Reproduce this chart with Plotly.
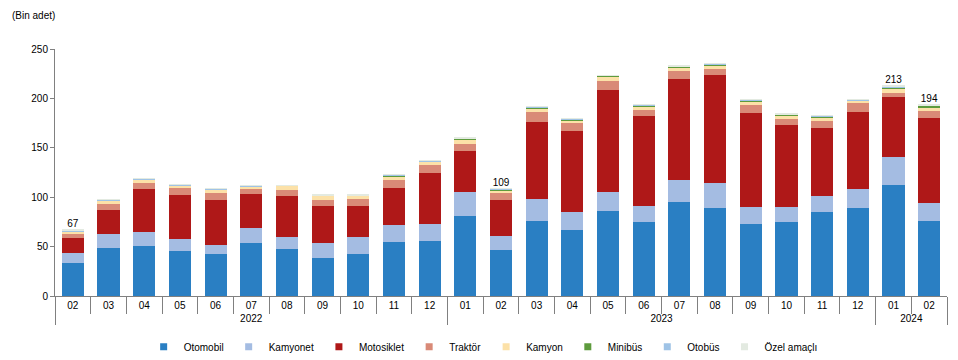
import plotly.graph_objects as go
import numpy as np

years = ["2022"] * 11 + ["2023"] * 12 + ["2024"] * 2
months = ["02", "03", "04", "05", "06", "07", "08", "09", "10", "11", "12",
          "01", "02", "03", "04", "05", "06", "07", "08", "09", "10", "11", "12",
          "01", "02"]

otomobil = [33.5, 49.0, 50.7, 45.6, 42.6, 53.7, 48.0, 38.9, 42.9, 55.1, 56.1,
            81.4, 47.0, 76.4, 67.2, 86.5, 75.3, 95.6, 89.5, 73.3, 75.3, 85.5, 89.5,
            112.8, 76.4]
kamyonet = [10.1, 13.8, 14.2, 12.2, 9.1, 15.2, 11.8, 14.8, 16.9, 16.9, 17.2,
            24.3, 14.1, 22.2, 18.3, 19.2, 16.3, 22.3, 24.4, 17.2, 15.2, 16.2, 19.3,
            27.4, 18.2]
motosiklet = [15.2, 24.7, 43.9, 44.6, 45.9, 34.8, 41.9, 37.9, 31.8, 37.8, 50.7,
              40.6, 36.5, 77.1, 81.1, 102.4, 90.2, 101.4, 109.4, 95.0, 82.1, 67.9, 77.0,
              60.8, 85.1]
traktor = [4.0, 5.7, 5.7, 7.4, 6.8, 4.1, 5.1, 5.7, 6.7, 8.1, 9.1,
           7.1, 7.1, 10.1, 8.1, 9.1, 6.7, 8.1, 6.8, 8.1, 6.8, 7.1, 9.1,
           4.1, 7.1]
kamyon = [2.0, 3.0, 3.1, 2.0, 3.0, 3.0, 4.7, 4.7, 3.7, 3.4, 2.7,
          5.4, 2.4, 4.1, 3.0, 5.1, 3.7, 3.7, 3.0, 3.4, 3.0, 4.0, 2.7,
          4.7, 4.4]
minibus = [0.6, 0.6, 0.5, 0.5, 0.8, 0.5, 0.1, 0.1, 0.1, 0.8, 0.5,
           0.8, 0.6, 0.8, 0.8, 0.6, 0.6, 0.8, 0.9, 0.8, 0.8, 0.8, 0.7,
           1.6, 1.2]
otobus = [0.9, 0.7, 0.8, 0.6, 0.3, 0.5, 0.1, 0.1, 0.1, 0.6, 0.7,
          0.3, 0.7, 0.8, 0.8, 0.2, 0.8, 0.5, 0.9, 0.7, 0.8, 0.8, 0.5,
          0.8, 0.7]
ozel = [0.7, 0.4, 0.4, 0.3, 0.3, 0.4, 0.2, 0.1, 0.1, 0.6, 0.5,
        0.2, 0.6, 0.7, 0.8, 0.2, 0.7, 0.4, 0.9, 0.8, 0.8, 0.8, 0.5,
        0.8, 0.7]

total_labels = ["67", "", "", "", "", "", "", "", "", "", "",
                "", "109", "", "", "", "", "", "", "", "", "", "",
                "213", "194"]

series = [
    ("Otomobil", otomobil, "#2A7FC3"),
    ("Kamyonet", kamyonet, "#A4BCE2"),
    ("Motosiklet", motosiklet, "#AF1818"),
    ("Traktör", traktor, "#D98A77"),
    ("Kamyon", kamyon, "#FCE1A8"),
    ("Minibüs", minibus, "#5E9B3D"),
    ("Otobüs", otobus, "#9FC3E6"),
    ("Özel amaçlı", ozel, "#E3EAE1"),
]

# plotly orders inner multicategory labels by first appearance across all years,
# so make each year's month labels distinct with invisible zero-width suffixes
year_suffix = {"2022": "", "2023": "\u200b", "2024": "\u200b\u200b"}
months_axis = [m + year_suffix[y] for y, m in zip(years, months)]
x = [years, months_axis]

fig = go.Figure()
for name, vals, col in series:
    fig.add_trace(go.Bar(x=x, y=vals, name=name, showlegend=False,
                         marker=dict(color=col, line=dict(width=0))))

# legend proxies with small square markers
for name, vals, col in series:
    fig.add_trace(go.Scatter(x=[None], y=[None], mode="markers", name=name,
                             marker=dict(symbol="square", size=7, color=col)))

totals = np.sum([s[1] for s in series], axis=0)
fig.add_trace(go.Scatter(x=x, y=totals, mode="text", text=total_labels,
                         textposition="top center", showlegend=False,
                         textfont=dict(size=10, color="#000000"), hoverinfo="skip"))

font = "Liberation Sans, Arial, sans-serif"
fig.update_layout(
    barmode="stack",
    bargap=0.38,
    width=958, height=360,
    margin=dict(l=55, r=11, t=49, b=64, autoexpand=False),
    plot_bgcolor="white", paper_bgcolor="white",
    font=dict(family=font, size=10, color="#000000"),
    showlegend=True,
    legend=dict(orientation="h", x=0.48, xanchor="center", y=-0.205, yanchor="middle",
                font=dict(size=10), itemwidth=30, traceorder="normal"),
    annotations=[dict(text="(Bin adet)", xref="paper", yref="paper", x=-0.051, y=1.134,
                      xanchor="left", yanchor="middle", showarrow=False, font=dict(size=10))],
)
fig.update_xaxes(type="multicategory", range=[-0.5, len(months) - 0.5],
                 showline=True, linecolor="#808080", linewidth=1,
                 ticks="outside", tickson="boundaries", ticklen=17, tickcolor="#808080",
                 showdividers=True, dividercolor="#808080", dividerwidth=1,
                 tickfont=dict(size=10), showgrid=False, automargin=False)
fig.update_yaxes(range=[0, 250], dtick=50, showline=True, linecolor="#808080", linewidth=1,
                 ticks="outside", ticklen=4, tickcolor="#808080", showgrid=False,
                 zeroline=False, tickfont=dict(size=10), automargin=False)

fig.write_html("out.html", post_script="document.body.style.margin='0';",
               config={"displayModeBar": False})
